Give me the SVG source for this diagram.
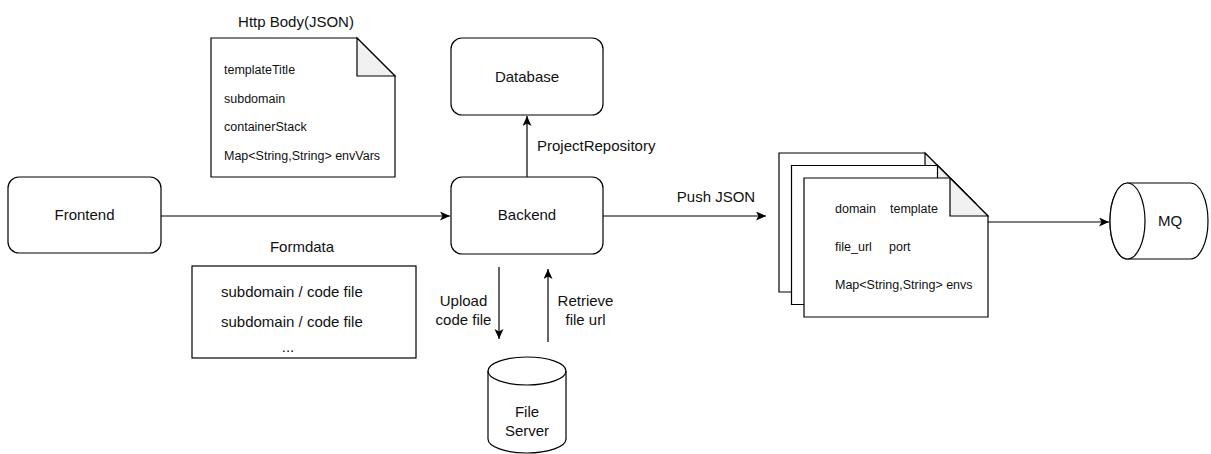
<svg xmlns="http://www.w3.org/2000/svg" width="1211" height="454" viewBox="0 0 1211 454">
<defs>
<style>
.box{fill:#fff;stroke:#000;stroke-width:1.2}
.fold{fill:#f1f1f1;stroke:#000;stroke-width:1.2;stroke-linejoin:miter}
.edge{fill:none;stroke:#000;stroke-width:1.2}
text{font-family:"Liberation Sans",Arial,sans-serif;fill:#111}
.t15{font-size:15px}
.t12{font-size:12.5px}
.c{text-anchor:middle}
</style>
<marker id="arr" markerWidth="11" markerHeight="10" refX="10" refY="4.5" orient="auto" markerUnits="userSpaceOnUse">
<path d="M0,0 L10,4.5 L0,9 L2.5,4.5 Z" fill="#000"/>
</marker>
</defs>
<rect width="1211" height="454" fill="#fff"/>

<g id="connectors">
<path class="edge" d="M161,216 L450,216" marker-end="url(#arr)"/>
<path class="edge" d="M527,177 L527,116" marker-end="url(#arr)"/>
<path class="edge" d="M603,216 L766,216" marker-end="url(#arr)"/>
<path class="edge" d="M499,267 L499,339" marker-end="url(#arr)"/>
<path class="edge" d="M548,342 L548,269" marker-end="url(#arr)"/>
<path class="edge" d="M988,222 L1109,222" marker-end="url(#arr)"/>
<text class="t15" x="537" y="151">ProjectRepository</text>
<text class="t15 c" x="716" y="202">Push JSON</text>
<text class="t15 c" x="463.5" y="306">Upload</text>
<text class="t15 c" x="463.5" y="325">code file</text>
<text class="t15 c" x="585.5" y="306">Retrieve</text>
<text class="t15 c" x="585.5" y="325">file url</text>
</g>

<g id="frontend">
<rect class="box" x="8" y="177" width="153" height="76" rx="11"/>
<text class="t15 c" x="84.5" y="220">Frontend</text>
</g>

<g id="backend">
<rect class="box" x="451" y="177" width="152" height="77" rx="11"/>
<text class="t15 c" x="527" y="220">Backend</text>
</g>

<g id="database">
<rect class="box" x="451" y="38" width="152" height="77" rx="11"/>
<text class="t15 c" x="527" y="82">Database</text>
</g>

<g id="http-body">
<text class="t15 c" x="296" y="27">Http Body(JSON)</text>
<path class="box" d="M211,38 L357,38 L395,76 L395,177 L211,177 Z"/>
<path class="fold" d="M357,38 L357,76 L395,76 Z"/>
<text class="t12" x="224" y="74">templateTitle</text>
<text class="t12" x="224" y="102.5">subdomain</text>
<text class="t12" x="224" y="131">containerStack</text>
<text class="t12" x="224" y="159.5">Map&lt;String,String&gt; envVars</text>
</g>

<g id="formdata">
<text class="t15 c" x="302" y="252">Formdata</text>
<rect class="box" x="192" y="266" width="224" height="92"/>
<text class="t15" x="221" y="297">subdomain / code file</text>
<text class="t15" x="221" y="327">subdomain / code file</text>
<text class="t15 c" x="288" y="352">...</text>
</g>

<g id="file-server">
<path class="box" d="M488,371 A39,14 0 0 1 566,371 L566,439 A39,14 0 0 1 488,439 Z"/>
<path class="edge" d="M488,371 A39,14 0 0 0 566,371"/>
<text class="t15 c" x="527" y="417">File</text>
<text class="t15 c" x="527" y="436">Server</text>
</g>

<g id="message-docs">
<path class="box" d="M779,153 L925,153 L963,191 L963,292 L779,292 Z"/>
<path class="fold" d="M925,153 L925,191 L963,191 Z"/>
<path class="box" d="M791.5,165.5 L937.5,165.5 L975.5,203.5 L975.5,304.5 L791.5,304.5 Z"/>
<path class="fold" d="M937.5,165.5 L937.5,203.5 L975.5,203.5 Z"/>
<path class="box" d="M804,178 L950,178 L988,216 L988,317 L804,317 Z"/>
<path class="fold" d="M950,178 L950,216 L988,216 Z"/>
<text class="t12" x="835" y="213">domain</text>
<text class="t12" x="890" y="213">template</text>
<text class="t12" x="835" y="251">file_url</text>
<text class="t12" x="889" y="251">port</text>
<text class="t12" x="835" y="289">Map&lt;String,String&gt; envs</text>
</g>

<g id="mq">
<path class="box" d="M1127.5,183 L1190.5,183 A17.5,38 0 0 1 1190.5,259 L1127.5,259 A17.5,38 0 0 1 1127.5,183 Z"/>
<ellipse class="box" cx="1127.5" cy="221" rx="17.5" ry="38"/>
<text class="t15 c" x="1170" y="226">MQ</text>
</g>
</svg>
